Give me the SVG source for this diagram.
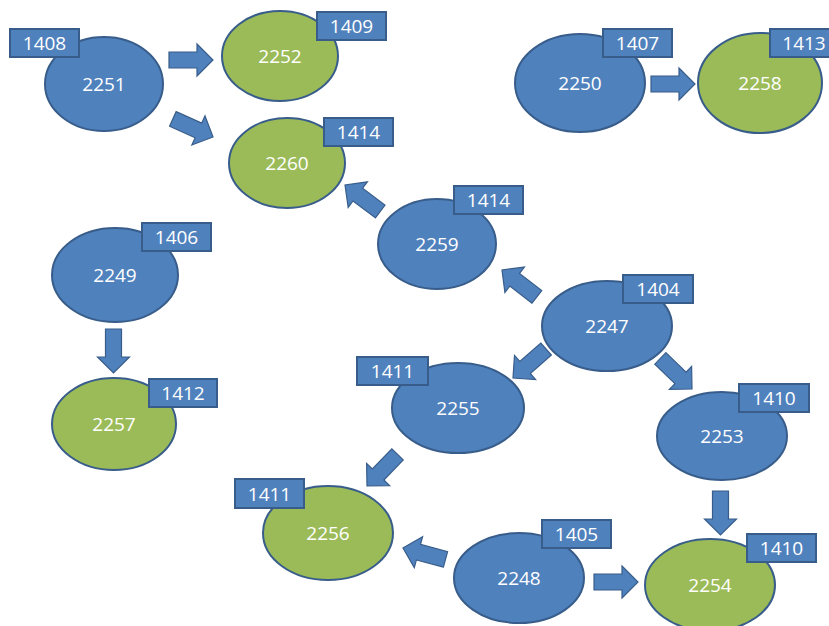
<svg xmlns="http://www.w3.org/2000/svg" xmlns:xlink="http://www.w3.org/1999/xlink" width="829" height="626" viewBox="0 0 829 626">
<style>
.b{fill:#4f81bd;stroke:#385d8a;stroke-width:2}
.g{fill:#9bbb59;stroke:#385d8a;stroke-width:2}
.lb{fill:#4f81bd;stroke:#385d8a;stroke-width:2}
.a{fill:#4f81bd;stroke:#385d8a;stroke-width:1.2}
text{font-family:"Open Sans","Liberation Sans",sans-serif;font-size:19px;fill:#ffffff;text-anchor:middle;dominant-baseline:central}
</style>
<defs>
<path id="arr" d="M-44,-8 H-16 V-16 L0,0 L-16,16 V8 H-44 Z"/>
</defs>
<rect width="829" height="626" fill="#ffffff"/>
<g id="connectors">
<use xlink:href="#arr" href="#arr" class="a" transform="translate(213,60)"/>
<use xlink:href="#arr" href="#arr" class="a" transform="translate(213,137) rotate(24.2)"/>
<use xlink:href="#arr" href="#arr" class="a" transform="translate(695,84)"/>
<use xlink:href="#arr" href="#arr" class="a" transform="translate(113.5,373) rotate(90)"/>
<use xlink:href="#arr" href="#arr" class="a" transform="translate(345,185) rotate(216.9)"/>
<use xlink:href="#arr" href="#arr" class="a" transform="translate(502,270) rotate(217.6)"/>
<use xlink:href="#arr" href="#arr" class="a" transform="translate(513,378) rotate(138.8)"/>
<use xlink:href="#arr" href="#arr" class="a" transform="translate(692,389) rotate(44)"/>
<use xlink:href="#arr" href="#arr" class="a" transform="translate(720.5,535) rotate(90)"/>
<use xlink:href="#arr" href="#arr" class="a" transform="translate(367,486) rotate(134)"/>
<use xlink:href="#arr" href="#arr" class="a" transform="translate(403,548) rotate(195)"/>
<use xlink:href="#arr" href="#arr" class="a" transform="translate(638,582)"/>
</g>
<g id="n2251"><ellipse class="b" cx="104" cy="84" rx="59" ry="47"/><text x="104" y="84">2251</text><rect class="lb" x="10" y="29" width="69" height="28"/><text x="44.5" y="43">1408</text></g>
<g id="n2252"><ellipse class="g" cx="280" cy="56" rx="58" ry="45"/><text x="280" y="56">2252</text><rect class="lb" x="317" y="12" width="69" height="28"/><text x="351.5" y="26">1409</text></g>
<g id="n2260"><ellipse class="g" cx="287" cy="163" rx="58" ry="45"/><text x="287" y="163">2260</text><rect class="lb" x="324" y="118" width="69" height="28"/><text x="358.5" y="132">1414</text></g>
<g id="n2250"><ellipse class="b" cx="580" cy="83" rx="65" ry="49"/><text x="580" y="83">2250</text><rect class="lb" x="603" y="29" width="69" height="28"/><text x="637.5" y="43">1407</text></g>
<g id="n2258"><ellipse class="g" cx="760" cy="83" rx="62" ry="50"/><text x="760" y="83">2258</text><rect class="lb" x="770" y="29" width="69" height="28"/><text x="804" y="43">1413</text></g>
<g id="n2259"><ellipse class="b" cx="437" cy="244" rx="59" ry="45"/><text x="437" y="244">2259</text><rect class="lb" x="454" y="186" width="69" height="28"/><text x="488.5" y="200">1414</text></g>
<g id="n2247"><ellipse class="b" cx="607" cy="326" rx="65" ry="45"/><text x="607" y="326">2247</text><rect class="lb" x="623" y="275" width="70" height="28"/><text x="658" y="289">1404</text></g>
<g id="n2255"><ellipse class="b" cx="458" cy="408" rx="66" ry="45"/><text x="458" y="408">2255</text><rect class="lb" x="357" y="357" width="71" height="28"/><text x="392.5" y="371">1411</text></g>
<g id="n2249"><ellipse class="b" cx="115" cy="275" rx="63" ry="47"/><text x="115" y="275">2249</text><rect class="lb" x="142" y="223" width="69" height="28"/><text x="176.5" y="237">1406</text></g>
<g id="n2257"><ellipse class="g" cx="114" cy="424" rx="62" ry="46"/><text x="114" y="424">2257</text><rect class="lb" x="149" y="379" width="68" height="28"/><text x="183" y="393">1412</text></g>
<g id="n2253"><ellipse class="b" cx="722" cy="436" rx="65" ry="44"/><text x="722" y="436">2253</text><rect class="lb" x="739" y="384" width="70" height="28"/><text x="774" y="398">1410</text></g>
<g id="n2256"><ellipse class="g" cx="328" cy="533" rx="65" ry="47"/><text x="328" y="533">2256</text><rect class="lb" x="235" y="479" width="69" height="29"/><text x="269.5" y="493.5">1411</text></g>
<g id="n2248"><ellipse class="b" cx="519" cy="578" rx="65" ry="45"/><text x="519" y="578">2248</text><rect class="lb" x="542" y="520" width="69" height="28"/><text x="576.5" y="534">1405</text></g>
<g id="n2254"><ellipse class="g" cx="710" cy="585" rx="65" ry="46"/><text x="710" y="585">2254</text><rect class="lb" x="747" y="534" width="69" height="28"/><text x="781.5" y="548">1410</text></g>
</svg>
